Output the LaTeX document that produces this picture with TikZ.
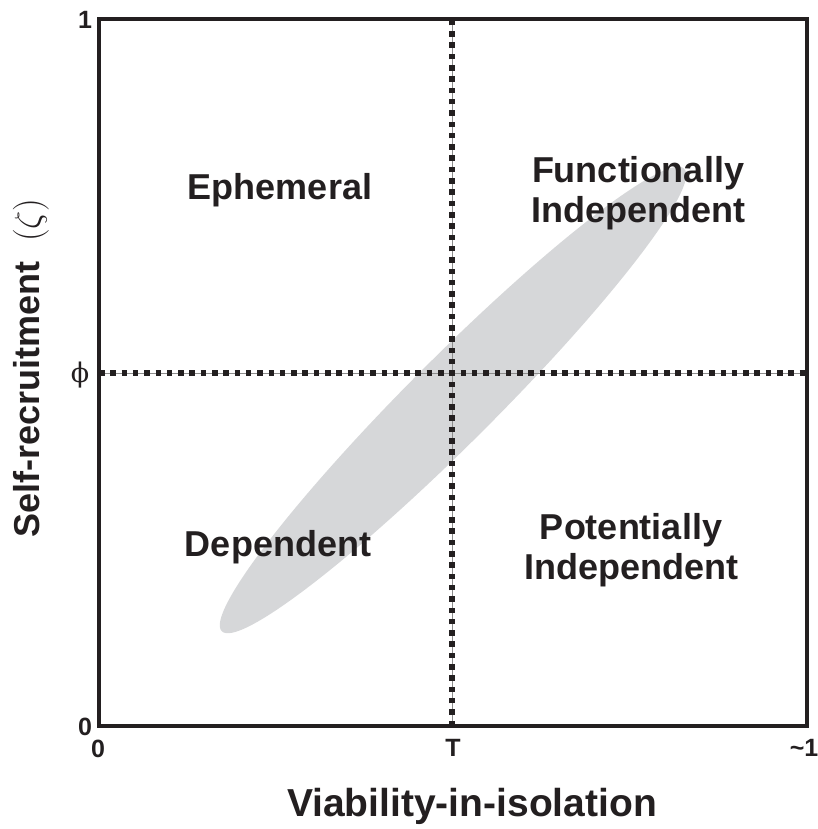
\RequirePackage{fix-cm}
\documentclass[tikz,border=0pt]{standalone}
\usepackage{fontspec}
\setmainfont{Liberation Sans}
\newfontfamily\phifont{DejaVu Serif}
\definecolor{ink}{HTML}{231F20}
\definecolor{blob}{HTML}{D6D7D9}
\begin{document}
\begin{tikzpicture}[x=1pt,y=-1pt,
  quad/.style={font=\fontsize{36}{40}\selectfont\bfseries, align=center, text=ink, inner sep=0pt},
  axlabel/.style={font=\fontsize{39}{42}\selectfont\bfseries, text=ink, inner sep=0pt},
  tick/.style={font=\fontsize{25}{27}\selectfont\bfseries, text=ink, inner sep=0pt},
  dotline/.style={line width=5.5pt, ink, dash pattern=on 5.5pt off 5.8pt},
  guide/.style={line width=0.8pt, black!45}]
\useasboundingbox (0,0) rectangle (818,829);
% shaded ellipse
\begin{scope}[shift={(453,400)}, rotate=45]
  \fill[blob] (0,0) ellipse [x radius=327, y radius=43];
\end{scope}
% coordinates
\coordinate (tl) at (99,19);
\coordinate (br) at (807,726);
\coordinate (vt) at (452,19);
\coordinate (vb) at (452,726);
\coordinate (hl) at (99,373);
\coordinate (hr) at (807,373);
% dotted threshold lines
\draw[guide] (vt) -- (vb);
\draw[guide] (hl) -- (hr);
\draw[dotline] (vb) -- (vt);
\draw[dotline] (hl) -- (hr);
% frame
\draw[line width=4pt, ink] (tl) rectangle (br);
% quadrant labels
\node[quad] (eph) at (280,190) {Ephemeral};
\node[quad] (fi) at (638,193) {Functionally\\Independent};
\node[quad] (dep) at (278,547) {Dependent};
\node[quad] (pi) at (631,550) {Potentially\\Independent};
% ticks
\node[tick] (y1) at (85,20) {1};
\node[tick] (y0) at (85,727) {0};
\node[font=\fontsize{27}{30}\selectfont\phifont, text=ink, inner sep=0pt] (yphi) at (80,375) {ϕ};
\node[tick] (x0) at (98,749) {0};
\node[tick] (xT) at (453,748) {T};
\node[tick] (x1) at (804,748) {\char`\~1};
% axis labels
\node[axlabel] (xl) at (472,806) {Viability-in-isolation};
\node[font=\fontsize{36}{40}\selectfont\bfseries, text=ink, inner sep=0pt, rotate=90] (yl) at (31,368) {Self-recruitment\hspace{0.55em}{\mdseries$(\zeta)$}};
\end{tikzpicture}
\end{document}
